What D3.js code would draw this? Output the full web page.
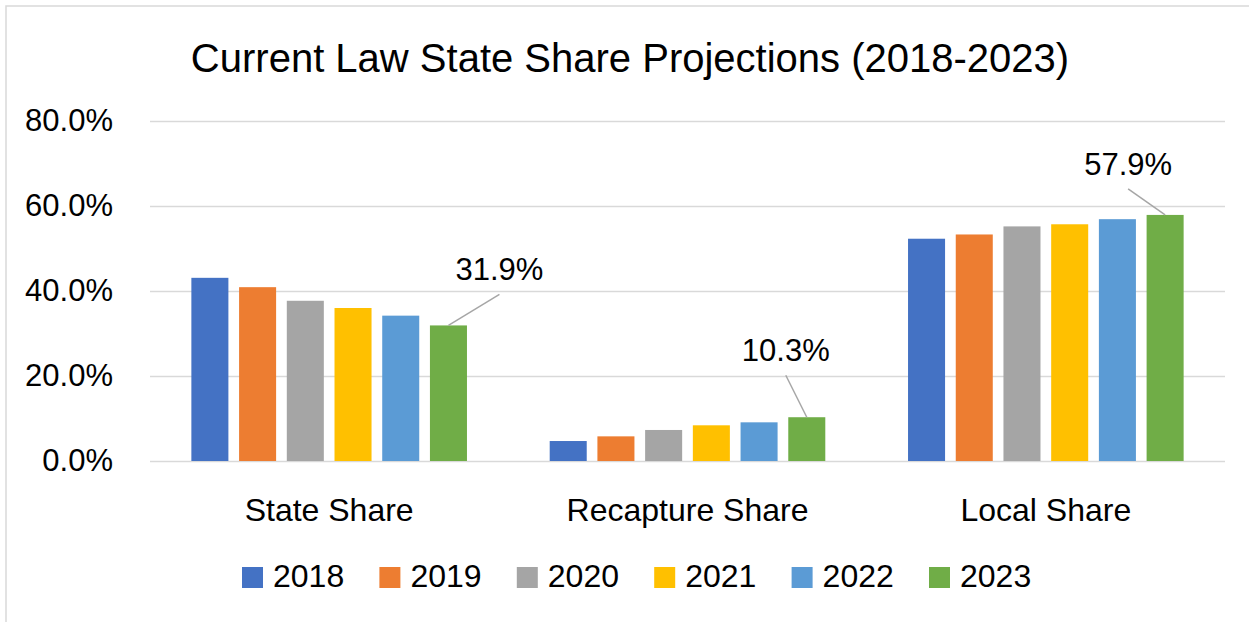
<html>
<head>
    <title>Current Law State Share Projections</title>
    <script src="https://cdn.jsdelivr.net/npm/d3@7"></script>
    <style>
        body { margin: 0; background: #fff; }
        text { font-family: "Liberation Sans", Arial, sans-serif; fill: #000; }
        .grid line { stroke: #d9d9d9; stroke-width: 1.5; }
    </style>
</head>
<body>
<script>
    var width = 1249
    var height = 622

    // data
    var categories = ["State Share", "Recapture Share", "Local Share"]
    var years = ["2018", "2019", "2020", "2021", "2022", "2023"]
    var stateShare = [43.1, 40.9, 37.7, 36.0, 34.2, 31.9]
    var recaptureShare = [4.7, 5.8, 7.3, 8.4, 9.1, 10.3]
    var localShare = [52.3, 53.3, 55.2, 55.7, 56.9, 57.9]
    var yTicks = [0, 20, 40, 60, 80]
    var colors = ["#4472C4", "#ED7D31", "#A5A5A5", "#FFC000", "#5B9BD5", "#70AD47"]

    // only 2023 is labelled; label offsets (dx, dy) from the bar top
    var labelOffsets = [[51, -45], [-21, -56], [-37, -40]]

    var seriesByCat = [stateShare, recaptureShare, localShare]

    var svg = d3.select("body").append("svg")
        .attr("width", width)
        .attr("height", height)

    // chart frame
    svg.append("rect")
        .attr("x", 6).attr("y", 6)
        .attr("width", width + 20).attr("height", height + 20)
        .attr("fill", "none")
        .attr("stroke", "#d9d9d9")
        .attr("stroke-width", 1.5)

    var plotLeft = 150, plotRight = 1225, plotTop = 121, plotBottom = 461

    var x0 = d3.scaleBand().domain(categories).range([plotLeft, plotRight])
    var x1 = d3.scaleBand().domain(years).range([0, x0.bandwidth()])
        .paddingInner(0.224).paddingOuter(0.867)
    var y = d3.scaleLinear().domain([0, 80]).range([plotBottom, plotTop])

    // title
    svg.append("text")
        .attr("x", 630).attr("y", 72)
        .attr("text-anchor", "middle")
        .attr("font-size", "40px")
        .text("Current Law State Share Projections (2018-2023)")

    // y axis + gridlines
    var yAxis = svg.append("g")
        .attr("class", "grid")
        .attr("transform", "translate(" + plotLeft + ",0)")
        .call(d3.axisLeft(y).tickValues(yTicks)
            .tickSize(-(plotRight - plotLeft))
            .tickPadding(37)
            .tickFormat(function (d) { return d.toFixed(1) + "%" }))
    yAxis.select(".domain").remove()
    yAxis.selectAll("text")
        .attr("font-size", "31px")
        .attr("font-family", "Liberation Sans, Arial, sans-serif")
        .attr("fill", "#000")

    // bars
    var rows = []
    categories.forEach(function (c, ci) {
        years.forEach(function (yr, yi) {
            rows.push({ cat: c, ci: ci, year: yr, yi: yi, value: seriesByCat[ci][yi] })
        })
    })

    svg.append("g").selectAll("rect")
        .data(rows)
        .enter().append("rect")
        .attr("x", function (d) { return x0(d.cat) + x1(d.year) })
        .attr("y", function (d) { return y(d.value) })
        .attr("width", x1.bandwidth())
        .attr("height", function (d) { return y(0) - y(d.value) })
        .attr("fill", function (d) { return colors[d.yi] })

    // category labels
    var xAxis = svg.append("g")
        .attr("transform", "translate(0," + plotBottom + ")")
        .call(d3.axisBottom(x0).tickSize(0).tickPadding(0))
    xAxis.select(".domain").remove()
    xAxis.selectAll("text")
        .attr("dy", null)
        .attr("y", 60)
        .attr("font-size", "32px")
        .attr("font-family", "Liberation Sans, Arial, sans-serif")
        .attr("fill", "#000")

    // 2023 data labels with leader lines
    var last = rows.filter(function (d) { return d.yi == years.length - 1 })
    last.forEach(function (d) {
        var bx = x0(d.cat) + x1(d.year) + x1.bandwidth() / 2
        var by = y(d.value)
        var off = labelOffsets[d.ci]
        var lx = bx + off[0]
        var ly = by + off[1]
        svg.append("line")
            .attr("x1", bx).attr("y1", by)
            .attr("x2", lx).attr("y2", ly + 14)
            .attr("stroke", "#a6a6a6")
            .attr("stroke-width", 1.5)
        svg.append("text")
            .attr("x", lx).attr("y", ly)
            .attr("text-anchor", "middle")
            .attr("font-size", "31px")
            .text(d.value.toFixed(1) + "%")
    })

    // legend
    var legend = svg.append("g")
        .attr("transform", "translate(242,567)")
    years.forEach(function (yr, i) {
        var g = legend.append("g").attr("transform", "translate(" + (i * 137.4) + ",0)")
        g.append("rect")
            .attr("width", 21).attr("height", 21)
            .attr("fill", colors[i])
        g.append("text")
            .attr("x", 31).attr("y", 20)
            .attr("font-size", "32px")
            .text(yr)
    })
</script>
</body>
</html>
